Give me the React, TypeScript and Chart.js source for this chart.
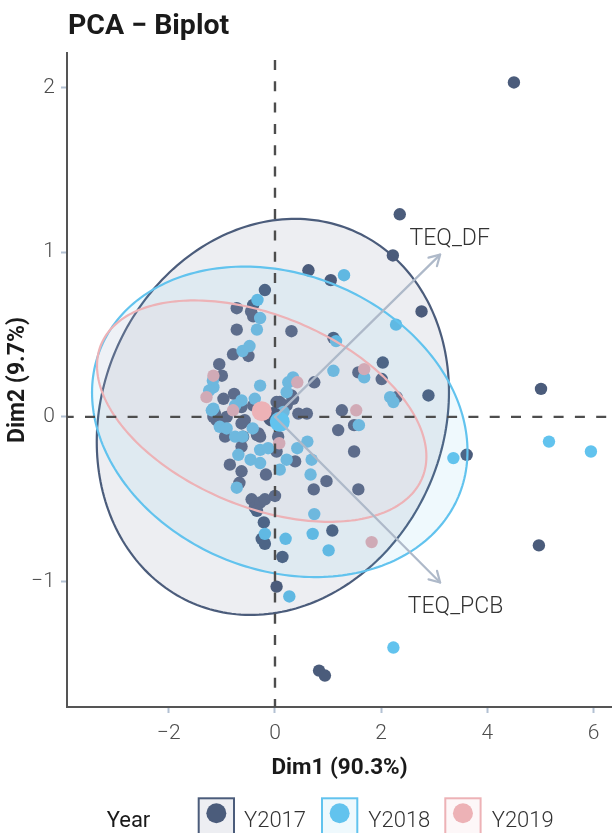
import React, { useEffect, useRef } from 'react';
import { Chart, registerables } from 'chart.js';

Chart.register(...registerables);

// ---------- data ----------
const years = ['Y2017', 'Y2018', 'Y2019'];
const groupColors = ['#4B5C7B', '#62C3EE', '#EDB2B6'];

const y2017X = [2.35, 2.22, 0.63, 1.05, -0.19, -0.41, -0.72, -0.41, -0.45, -0.72, 0.31, 2.76, 1.10, -0.79, -0.50, 2.03, 1.57, 2.01, 2.89, 2.29, -1.05, -1.00, 0.74, 0.34, 0.31, -0.97, -0.77, 0.09, 0.16, 0.03, 0.44, 0.60, 1.26, 1.19, 1.49, -1.10, -1.16, -1.04, -0.91, -0.63, -0.63, -0.57, -0.41, -0.31, -0.94, -0.34, -0.60, -0.63, 0.06, 0.03, 1.49, -0.85, -0.63, -0.17, 0.38, 0.97, 1.57, 0.73, -0.67, -0.44, -0.38, -0.28, -0.19, 0.00, -0.34, -0.21, -0.25, -0.19, 1.08, 0.14, 0.03, 0.83, 0.94, 3.61, 4.50, 5.01, 4.97, -1.13, -0.28, 0.22];
const y2017Y = [1.23, 0.98, 0.89, 0.83, 0.77, 0.68, 0.66, 0.61, 0.64, 0.53, 0.52, 0.64, 0.48, 0.38, 0.37, 0.33, 0.27, 0.23, 0.13, 0.12, 0.32, 0.25, 0.21, 0.11, 0.13, 0.11, 0.14, 0.09, 0.07, 0.09, 0.02, 0.02, 0.04, -0.08, -0.05, -0.02, 0.00, -0.04, 0.00, 0.06, -0.04, -0.02, 0.07, -0.10, -0.12, -0.11, -0.12, -0.18, -0.12, -0.21, -0.21, -0.29, -0.33, -0.35, -0.27, -0.39, -0.44, -0.44, -0.40, -0.50, -0.55, -0.52, -0.50, -0.48, -0.57, -0.64, -0.74, -0.77, -0.69, -0.85, -1.03, -1.54, -1.57, -0.23, 2.03, 0.17, -0.78, 0.02, -0.12, 0.07];

const y2018X = [1.30, -0.33, -0.28, -0.34, 2.28, 1.15, -0.48, -0.61, 1.10, 1.68, 2.17, 2.23, -1.17, -1.16, -1.24, -0.28, 0.34, 0.25, 0.22, -0.63, -0.75, -0.38, -1.16, -1.19, -1.04, -0.91, -0.42, -0.75, -0.61, -0.69, -0.28, -0.13, 0.42, 0.61, 1.58, -0.46, -0.28, 0.09, 0.22, 0.69, 0.67, -0.72, 0.74, -0.19, 0.20, 0.71, 1.01, 0.27, 2.23, 3.36, 5.16, 5.95, 0.16];
const y2018Y = [0.86, 0.71, 0.60, 0.53, 0.56, 0.46, 0.43, 0.40, 0.28, 0.24, 0.12, 0.09, 0.22, 0.18, 0.16, 0.19, 0.24, 0.21, 0.15, 0.10, 0.07, 0.11, 0.05, 0.04, -0.06, -0.07, -0.07, -0.12, -0.12, -0.23, -0.20, -0.19, -0.19, -0.15, -0.05, -0.26, -0.28, -0.32, -0.26, -0.26, -0.35, -0.43, -0.59, -0.71, -0.74, -0.71, -0.81, -1.09, -1.40, -0.25, -0.15, -0.21, 0.03];

const y2019X = [1.68, -1.16, 0.42, -1.29, -0.79, 1.53, 0.08, 1.82];
const y2019Y = [0.29, 0.25, 0.21, 0.12, 0.04, 0.04, -0.16, -0.76];

// group means (ellipse centres)
const meanX = [-0.04, 0.09, -0.25];
const meanY = [0.0, -0.03, 0.035];
// ellipse shape: var(x), cov(x,y), var(y) in data units
const ellVarX = [11.0, 12.5, 9.62];
const ellCov = [0.5, -0.63, -0.855];
const ellVarY = [1.445, 0.888, 0.4515];

// variable arrows
const variables = ['TEQ_DF', 'TEQ_PCB'];
const varX = [3.11, 3.11];
const varY = [0.985, -1.005];
const varLabelX = [3.29, 3.40];
const varLabelY = [1.096, -1.141];

const xTicks = [-2, 0, 2, 4, 6];
const yTicks = [-1, 0, 1, 2];
const xRange = [-3.917, 6.347];
const yRange = [-1.761, 2.209];

// ---------- helpers ----------
function rgba(hex: string, a: number) {
  const n = parseInt(hex.slice(1), 16);
  return `rgba(${(n >> 16) & 255},${(n >> 8) & 255},${n & 255},${a})`;
}
const fmt = (v: number) => (v < 0 ? '\u2212' + Math.abs(v) : String(v));
const toPts = (xs: number[], ys: number[]) => xs.map((x, i) => ({ x, y: ys[i] }));

const biplotPlugin = {
  id: 'biplot',
  afterLayout(chart: any) {
    // let the panel run to the right edge of the canvas, as in the reference
    const x = chart.scales.x;
    x.right = chart.width;
    x.width = x.right - x.left;
    x.configure();
    chart.chartArea.right = chart.width;
    chart.chartArea.width = chart.chartArea.right - chart.chartArea.left;
  },
  afterDatasetDraw(chart: any, args: any) {
    if (args.index !== 3) return;
    const { ctx, chartArea } = chart;
    const xs = chart.scales.x;
    const ys = chart.scales.y;
    for (let g = 0; g < 3; g++) {
      const sa = Math.sqrt(ellVarX[g]);
      const k = ellCov[g] / sa;
      const m = Math.sqrt(ellVarY[g] - k * k);
      ctx.save();
      ctx.beginPath();
      const n = 240;
      for (let i = 0; i <= n; i++) {
        const t = (i / n) * Math.PI * 2;
        const px = xs.getPixelForValue(meanX[g] + sa * Math.cos(t));
        const py = ys.getPixelForValue(meanY[g] + k * Math.cos(t) + m * Math.sin(t));
        if (i === 0) ctx.moveTo(px, py);
        else ctx.lineTo(px, py);
      }
      ctx.closePath();
      ctx.fillStyle = rgba(groupColors[g], 0.1);
      ctx.fill();
      ctx.lineWidth = 2.2;
      ctx.strokeStyle = groupColors[g];
      ctx.stroke();
      ctx.restore();
    }
    // dashed zero lines
    ctx.save();
    ctx.strokeStyle = '#4D4D4D';
    ctx.lineWidth = 2.4;
    ctx.setLineDash([10, 11.3]);
    const x0 = xs.getPixelForValue(0);
    const y0 = ys.getPixelForValue(0);
    ctx.lineDashOffset = 14.3;
    ctx.beginPath();
    ctx.moveTo(x0, chartArea.top);
    ctx.lineTo(x0, chartArea.bottom);
    ctx.stroke();
    ctx.lineDashOffset = 3.3;
    ctx.beginPath();
    ctx.moveTo(chartArea.left, y0);
    ctx.lineTo(chartArea.right, y0);
    ctx.stroke();
    ctx.restore();
  },
  afterDatasetsDraw(chart: any) {
    const { ctx } = chart;
    const xs = chart.scales.x;
    const ys = chart.scales.y;
    const ox = xs.getPixelForValue(0);
    const oy = ys.getPixelForValue(0);
    ctx.save();
    ctx.strokeStyle = '#AEB9C9';
    ctx.lineWidth = 2.2;
    ctx.lineCap = 'round';
    ctx.lineJoin = 'round';
    for (let i = 0; i < variables.length; i++) {
      const tx = xs.getPixelForValue(varX[i]);
      const ty = ys.getPixelForValue(varY[i]);
      ctx.beginPath();
      ctx.moveTo(ox, oy);
      ctx.lineTo(tx, ty);
      ctx.stroke();
      const ang = Math.atan2(ty - oy, tx - ox);
      const L = 12;
      ctx.beginPath();
      ctx.moveTo(tx - L * Math.cos(ang - Math.PI / 6), ty - L * Math.sin(ang - Math.PI / 6));
      ctx.lineTo(tx, ty);
      ctx.lineTo(tx - L * Math.cos(ang + Math.PI / 6), ty - L * Math.sin(ang + Math.PI / 6));
      ctx.stroke();
    }
    ctx.fillStyle = '#333333';
    ctx.font = '300 23px Roboto';
    ctx.textAlign = 'center';
    ctx.textBaseline = 'alphabetic';
    for (let i = 0; i < variables.length; i++) {
      const lx = xs.getPixelForValue(varLabelX[i]);
      const ly = ys.getPixelForValue(varLabelY[i]);
      ctx.fillText(variables[i], lx, ly + 23 * 0.355);
    }
    ctx.restore();
  },
  afterDraw(chart: any) {
    const { ctx } = chart;
    ctx.save();
    // title
    ctx.fillStyle = '#1A1A1A';
    ctx.font = 'bold 28.5px Roboto';
    ctx.textAlign = 'left';
    ctx.textBaseline = 'alphabetic';
    ctx.fillText('PCA \u2212 Biplot', 68, 33.5);
    // legend
    ctx.font = '22px Roboto';
    ctx.fillText('Year', 106.7, 826.7);
    const boxX = [198.7, 322, 445.3];
    const textX = [244, 368.3, 491.7];
    for (let g = 0; g < years.length; g++) {
      ctx.fillStyle = rgba(groupColors[g], 0.1);
      ctx.fillRect(boxX[g], 798.3, 35.3, 40);
      ctx.strokeStyle = groupColors[g];
      ctx.lineWidth = 2;
      ctx.strokeRect(boxX[g], 798.3, 35.3, 40);
      ctx.fillStyle = groupColors[g];
      ctx.beginPath();
      ctx.arc(boxX[g] + 17.65, 813.3, 10, 0, Math.PI * 2);
      ctx.fill();
      ctx.fillStyle = '#333333';
      ctx.font = '300 22px Roboto';
      ctx.fillText(years[g], textX[g], 827);
    }
    ctx.restore();
  },
};

export default function App() {
  const ref = useRef<HTMLCanvasElement | null>(null);
  useEffect(() => {
    if (!ref.current) return;
    Chart.defaults.font.family = 'Roboto';
    const pointSets = [
      { label: 'Y2019', data: toPts(y2019X, y2019Y), c: groupColors[2] },
      { label: 'Y2018', data: toPts(y2018X, y2018Y), c: groupColors[1] },
      { label: 'Y2017', data: toPts(y2017X, y2017Y), c: groupColors[0] },
    ];
    const meanSets = [2, 1, 0].map((g) => ({
      label: years[g] + ' mean',
      data: [{ x: meanX[g], y: meanY[g] }],
      backgroundColor: groupColors[g],
      pointRadius: 10,
      pointBorderWidth: 0,
    }));
    const chart = new Chart(ref.current, {
      type: 'scatter',
      data: {
        datasets: [
          ...meanSets,
          ...pointSets.map((s) => ({
            label: s.label,
            data: s.data,
            backgroundColor: s.c,
            pointRadius: 6.2,
            pointBorderWidth: 0,
          })),
        ],
      },
      options: {
        animation: false,
        responsive: false,
        devicePixelRatio: 1,
        events: [],
        layout: { padding: { top: 53, left: 0, right: 0, bottom: 0 } },
        plugins: {
          legend: { display: false },
          tooltip: { enabled: false },
          title: { display: false },
        },
        scales: {
          x: {
            type: 'linear',
            position: 'bottom',
            min: xRange[0],
            max: xRange[1],
            afterBuildTicks: (s: any) => {
              s.ticks = xTicks.map((v) => ({ value: v }));
            },
            afterFit: (s: any) => {
              s.height = 126;
            },
            ticks: {
              callback: (v: any) => fmt(Number(v)),
              font: { family: 'Roboto', size: 21, weight: '300' },
              color: '#4D4D4D',
              padding: 8,
              maxRotation: 0,
            },
            grid: {
              display: true,
              drawOnChartArea: false,
              drawTicks: true,
              tickLength: 6,
              tickColor: '#B3C1D3',
              tickWidth: 2,
            },
            border: { display: true, color: '#555555', width: 2 },
            title: {
              display: true,
              text: 'Dim1 (90.3%)',
              color: '#1A1A1A',
              font: { family: 'Roboto', size: 22.5, weight: 'bold' },
              padding: { top: 0, bottom: 51 },
            },
          },
          y: {
            type: 'linear',
            position: 'left',
            min: yRange[0],
            max: yRange[1],
            afterBuildTicks: (s: any) => {
              s.ticks = yTicks.map((v) => ({ value: v }));
            },
            afterFit: (s: any) => {
              s.width = 67;
            },
            ticks: {
              callback: (v: any) => fmt(Number(v)),
              font: { family: 'Roboto', size: 21, weight: '300' },
              color: '#4D4D4D',
              padding: 6,
            },
            grid: {
              display: true,
              drawOnChartArea: false,
              drawTicks: true,
              tickLength: 6,
              tickColor: '#B3C1D3',
              tickWidth: 2,
            },
            border: { display: true, color: '#555555', width: 2 },
            title: {
              display: true,
              text: 'Dim2 (9.7%)',
              color: '#1A1A1A',
              font: { family: 'Roboto', size: 23, weight: 'bold' },
              padding: { top: 4, bottom: 0 },
            },
          },
        },
      },
      plugins: [biplotPlugin],
    } as any);
    return () => chart.destroy();
  }, []);
  return (
    <div style={{ position: 'absolute', left: 0, top: 0, width: 612, height: 833, background: '#ffffff' }}>
      <canvas ref={ref} width={612} height={833} style={{ display: 'block', width: 612, height: 833 }} />
    </div>
  );
}
